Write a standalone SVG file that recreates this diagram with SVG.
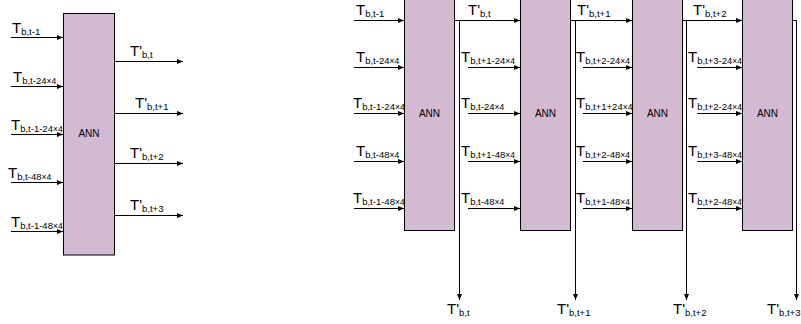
<svg xmlns="http://www.w3.org/2000/svg" width="801" height="324" viewBox="0 0 801 324">
<style>
.box{fill:#d2bbd2;stroke:#000;stroke-width:1}
.ln{stroke:#000;stroke-width:1;fill:none}
.arr{marker-end:url(#ah)}
text{font-family:"Liberation Sans",Arial,sans-serif;fill:#000}
.T{font-size:15px}
.s{font-size:9.5px}
.x{font-size:8.5px}
.ann{font-size:10px;text-anchor:middle}
</style>
<defs>
<marker id="ah" markerUnits="userSpaceOnUse" markerWidth="7" markerHeight="6" refX="6" refY="2.5" orient="auto">
<path d="M0,0 L6,2.5 L0,5 z" fill="#000"/>
</marker>
</defs>
<rect width="801" height="324" fill="#fff"/>

<g id="ann-left"><rect class="box" x="63.5" y="13.5" width="51" height="241.5"/><text class="ann" x="89" y="137">ANN</text></g>
<g id="ann-1"><rect class="box" x="404.5" y="-5" width="50" height="235.5"/><text class="ann" x="429.5" y="117">ANN</text></g>
<g id="ann-2"><rect class="box" x="520.5" y="-5" width="50" height="235.5"/><text class="ann" x="545.5" y="117">ANN</text></g>
<g id="ann-3"><rect class="box" x="632.5" y="-5" width="50" height="235.5"/><text class="ann" x="657.5" y="117">ANN</text></g>
<g id="ann-4"><rect class="box" x="742.5" y="-5" width="50" height="235.5"/><text class="ann" x="767.5" y="117">ANN</text></g>

<g id="connectors">
<path class="ln arr" d="M11,37.5 H63"/>
<path class="ln arr" d="M11,86.5 H63"/>
<path class="ln arr" d="M11,134.5 H63"/>
<path class="ln arr" d="M11,182.5 H63"/>
<path class="ln arr" d="M11,231.5 H63"/>
<path class="ln arr" d="M114,61.5 H183"/>
<path class="ln arr" d="M114,113.5 H183"/>
<path class="ln arr" d="M114,163.5 H183"/>
<path class="ln arr" d="M114,215.5 H183"/>
<path class="ln arr" d="M354,20.5 H404"/>
<path class="ln arr" d="M354,67.5 H404"/>
<path class="ln arr" d="M354,113.5 H404"/>
<path class="ln arr" d="M354,161.5 H404"/>
<path class="ln arr" d="M354,208.5 H404"/>
<path class="ln arr" d="M455,20.5 H520"/>
<path class="ln arr" d="M468,67.5 H520"/>
<path class="ln arr" d="M468,113.5 H520"/>
<path class="ln arr" d="M468,161.5 H520"/>
<path class="ln arr" d="M468,208.5 H520"/>
<path class="ln arr" d="M571,20.5 H632"/>
<path class="ln arr" d="M583,67.5 H632"/>
<path class="ln arr" d="M583,113.5 H632"/>
<path class="ln arr" d="M583,161.5 H632"/>
<path class="ln arr" d="M583,208.5 H632"/>
<path class="ln arr" d="M683,20.5 H742"/>
<path class="ln arr" d="M697,67.5 H742"/>
<path class="ln arr" d="M697,113.5 H742"/>
<path class="ln arr" d="M697,161.5 H742"/>
<path class="ln arr" d="M697,208.5 H742"/>
<path class="ln arr" d="M459.5,20.5 V300"/>
<path class="ln arr" d="M575.5,20.5 V300"/>
<path class="ln arr" d="M686.5,20.5 V300"/>
<path class="ln arr" d="M793,20.5 H796.5 V300"/>
</g>

<g id="labels">
<text class="T" x="12" y="33">T<tspan class="s" dy="1.5">b,t-1</tspan></text>
<text class="T" x="13" y="82">T<tspan class="s" dy="1.5">b,t-24</tspan><tspan class="x">×4</tspan></text>
<text class="T" x="11" y="130">T<tspan class="s" dy="1.5">b,t-1-24</tspan><tspan class="x">×4</tspan></text>
<text class="T" x="8" y="178">T<tspan class="s" dy="1.5">b,t-48</tspan><tspan class="x">×4</tspan></text>
<text class="T" x="11" y="227">T<tspan class="s" dy="1.5">b,t-1-48</tspan><tspan class="x">×4</tspan></text>
<text class="T" x="130" y="56">T'<tspan class="s" dy="1.5">b,t</tspan></text>
<text class="T" x="135" y="108">T'<tspan class="s" dy="1.5">b,t+1</tspan></text>
<text class="T" x="130" y="158">T'<tspan class="s" dy="1.5">b,t+2</tspan></text>
<text class="T" x="130" y="210">T'<tspan class="s" dy="1.5">b,t+3</tspan></text>
<text class="T" x="356" y="15">T<tspan class="s" dy="1.5">b,t-1</tspan></text>
<text class="T" x="356" y="62">T<tspan class="s" dy="1.5">b,t-24</tspan><tspan class="x">×4</tspan></text>
<text class="T" x="353" y="108">T<tspan class="s" dy="1.5">b,t-1-24</tspan><tspan class="x">×4</tspan></text>
<text class="T" x="356" y="156">T<tspan class="s" dy="1.5">b,t-48</tspan><tspan class="x">×4</tspan></text>
<text class="T" x="353" y="203">T<tspan class="s" dy="1.5">b,t-1-48</tspan><tspan class="x">×4</tspan></text>
<text class="T" x="468" y="15">T'<tspan class="s" dy="1.5">b,t</tspan></text>
<text class="T" x="461" y="62">T<tspan class="s" dy="1.5">b,t+1-24</tspan><tspan class="x">×4</tspan></text>
<text class="T" x="461" y="108">T<tspan class="s" dy="1.5">b,t-24</tspan><tspan class="x">×4</tspan></text>
<text class="T" x="461" y="156">T<tspan class="s" dy="1.5">b,t+1-48</tspan><tspan class="x">×4</tspan></text>
<text class="T" x="461" y="203">T<tspan class="s" dy="1.5">b,t-48</tspan><tspan class="x">×4</tspan></text>
<text class="T" x="577" y="15">T'<tspan class="s" dy="1.5">b,t+1</tspan></text>
<text class="T" x="576" y="62">T<tspan class="s" dy="1.5">b,t+2-24</tspan><tspan class="x">×4</tspan></text>
<text class="T" x="576" y="108">T<tspan class="s" dy="1.5">b,t+1+24</tspan><tspan class="x">×4</tspan></text>
<text class="T" x="576" y="156">T<tspan class="s" dy="1.5">b,t+2-48</tspan><tspan class="x">×4</tspan></text>
<text class="T" x="576" y="203">T<tspan class="s" dy="1.5">b,t+1-48</tspan><tspan class="x">×4</tspan></text>
<text class="T" x="693" y="15">T'<tspan class="s" dy="1.5">b,t+2</tspan></text>
<text class="T" x="688" y="62">T<tspan class="s" dy="1.5">b,t+3-24</tspan><tspan class="x">×4</tspan></text>
<text class="T" x="688" y="108">T<tspan class="s" dy="1.5">b,t+2-24</tspan><tspan class="x">×4</tspan></text>
<text class="T" x="688" y="156">T<tspan class="s" dy="1.5">b,t+3-48</tspan><tspan class="x">×4</tspan></text>
<text class="T" x="688" y="203">T<tspan class="s" dy="1.5">b,t+2-48</tspan><tspan class="x">×4</tspan></text>
<text class="T" x="447" y="314">T'<tspan class="s" dy="1.5">b,t</tspan></text>
<text class="T" x="557" y="314">T'<tspan class="s" dy="1.5">b,t+1</tspan></text>
<text class="T" x="673" y="314">T'<tspan class="s" dy="1.5">b,t+2</tspan></text>
<text class="T" x="767" y="314">T'<tspan class="s" dy="1.5">b,t+3</tspan></text>
</g>
</svg>
